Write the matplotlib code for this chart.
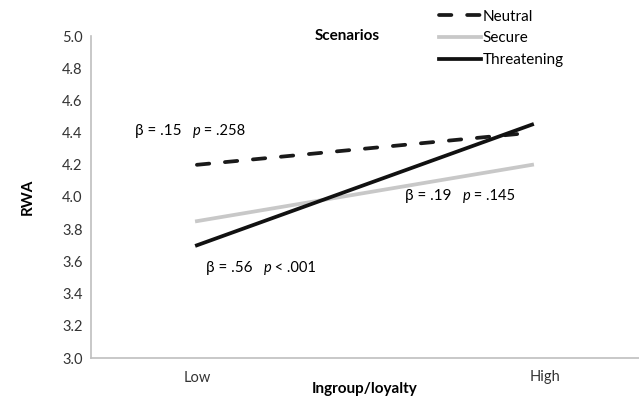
import matplotlib
matplotlib.use("Agg")
import matplotlib.pyplot as plt

plt.rcParams['font.family'] = ['Lato', 'DejaVu Sans']

categories = ["Low", "High"]
neutral = [4.20, 4.40]
secure = [3.85, 4.20]
threatening = [3.70, 4.45]
yticks = [3.0, 3.2, 3.4, 3.6, 3.8, 4.0, 4.2, 4.4, 4.6, 4.8, 5.0]
annotations = [("β = .15", "p", " = .258"), ("β = .56", "p", " < .001"), ("β = .19", "p", " = .145")]
ann_pos = [(135, 131), (206, 268), (405, 196)]

fig = plt.figure(figsize=(6.39, 3.99), dpi=100)
ax = fig.add_axes([91/639, 1-358/399, 548/639, 322/399])
x = [0, 1]
ax.plot(x, neutral, color="#1a1a1a", lw=2.7, dashes=(3.3, 4.2), dash_capstyle="round", label="Neutral")
ax.plot(x, secure, color="#c8c8c8", lw=2.7, label="Secure")
ax.plot(x, threatening, color="#111111", lw=2.7, label="Threatening")

ax.set_xlim(-0.316, 1.319)
ax.set_ylim(3.0, 5.0)
ax.set_yticks(yticks)
ax.set_yticklabels([f"{v:.1f}" for v in yticks], fontsize=10.5, color="#333333")
ax.set_xticks([0, 1.04])
ax.set_xticklabels(categories, fontsize=10.5, color="#333333")
ax.tick_params(length=0, pad=6)
ax.tick_params(axis='x', pad=9)
for s in ["top", "right"]:
    ax.spines[s].set_visible(False)
for s in ["left", "bottom"]:
    ax.spines[s].set_color("#bfbfbf")
    ax.spines[s].set_linewidth(1.2)

ax.set_ylabel("RWA", fontsize=11, fontweight="bold", labelpad=20)
fig.text(365/639, 1-389/399, "Ingroup/loyalty", fontsize=11, fontweight="bold", va="center", ha="center")

fig.text(315/639, 1-36/399, "Scenarios", fontsize=11, fontweight="bold", va="center", ha="left")

leg = ax.legend(loc="upper left", bbox_to_anchor=(427/639, 1.006), bbox_transform=fig.transFigure,
                frameon=False, fontsize=11, handlelength=2.75, handletextpad=0.1,
                labelspacing=0.5, borderpad=0.3)

fig.canvas.draw()
r = fig.canvas.get_renderer()
for (b, p, rest), (px, py) in zip(annotations, ann_pos):
    t1 = fig.text(px/639, 1-py/399, b, fontsize=11, va="center", ha="left")
    x1 = t1.get_window_extent(r).x1 + 11
    t2 = fig.text(x1/639, 1-py/399, p, fontsize=10.5, style="italic", va="center", ha="left")
    x2 = t2.get_window_extent(r).x1
    fig.text(x2/639, 1-py/399, rest, fontsize=10.5, va="center", ha="left")

fig.savefig("out.png", dpi=100)
